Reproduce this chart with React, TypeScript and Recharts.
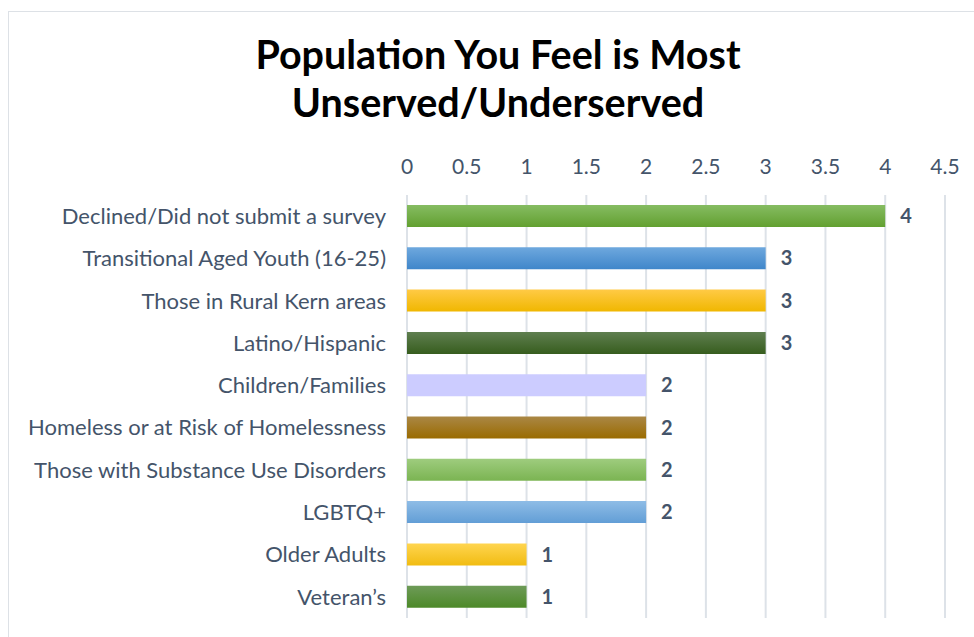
import React from "react";
import {
  BarChart,
  Bar,
  XAxis,
  YAxis,
  CartesianGrid,
  LabelList,
  Cell,
} from "recharts";

const categories = [
  "Declined/Did not submit a survey",
  "Transitional Aged Youth (16-25)",
  "Those in Rural Kern areas",
  "Latino/Hispanic",
  "Children/Families",
  "Homeless or at Risk of Homelessness",
  "Those with Substance Use Disorders",
  "LGBTQ+",
  "Older Adults",
  "Veteran\u2019s",
];

const counts = [4, 3, 3, 3, 2, 2, 2, 2, 1, 1];

const xTicks = [0, 0.5, 1, 1.5, 2, 2.5, 3, 3.5, 4, 4.5];

// top / bottom colour of each bar's gradient
const gradients = [
  ["#86BC62", "#62A030"],
  ["#6EA8DE", "#3F86CA"],
  ["#FFCA45", "#F0B700"],
  ["#5F7F50", "#375D1E"],
  ["#CCCCFF", "#CCCCFF"],
  ["#AA8745", "#9A6B00"],
  ["#9ECC7E", "#7BB452"],
  ["#8EBCE6", "#629ED6"],
  ["#FFD550", "#F1BC12"],
  ["#6E9B58", "#4D8928"],
];

const data = categories.map((name, i) => ({ name, value: counts[i] }));

const textColor = "#44546A";
const font = "Lato, 'Open Sans', sans-serif";

export default function App() {
  return (
    <div
      style={{
        position: "fixed",
        left: 0,
        top: 0,
        width: 974,
        height: 637,
        background: "#fff",
        overflow: "hidden",
        fontFamily: font,
      }}
    >
      <div
        style={{
          position: "absolute",
          left: 8,
          top: 11,
          width: 1000,
          height: 700,
          border: "1.5px solid #DDE1E6",
          boxSizing: "border-box",
        }}
      />
      <div
        style={{
          position: "absolute",
          left: 0,
          top: 30,
          width: 996,
          textAlign: "center",
          fontSize: 39.5,
          fontWeight: 700,
          lineHeight: "48px",
          color: "#000",
        }}
      >
        Population You Feel is Most
        <br />
        Unserved/Underserved
      </div>
      <div style={{ position: "absolute", left: 0, top: 0 }}>
        <BarChart
          width={974}
          height={637}
          data={data}
          layout="vertical"
          margin={{ top: 140, right: 29, bottom: 19, left: 0 }}
          barSize={22}
        >
          <defs>
            {gradients.map(([a, b], i) => (
              <linearGradient key={i} id={`g${i}`} x1="0" y1="0" x2="0" y2="1">
                <stop offset="0%" stopColor={a} />
                <stop offset="100%" stopColor={b} />
              </linearGradient>
            ))}
          </defs>
          <CartesianGrid horizontal={false} stroke="#DDE2E8" strokeWidth={2} />
          <XAxis
            type="number"
            orientation="top"
            domain={[0, 4.5]}
            ticks={xTicks}
            height={55}
            axisLine={false}
            tickLine={false}
            tickSize={0}
            tickMargin={21}
            interval={0}
            tick={{ fill: textColor, fontSize: 21, fontFamily: font }}
          />
          <YAxis
            type="category"
            dataKey="name"
            width={407}
            axisLine={false}
            tickLine={false}
            tickSize={0}
            tickMargin={21}
            interval={0}
            tick={{ fill: textColor, fontSize: 22, fontFamily: font }}
          />
          <Bar dataKey="value" isAnimationActive={false}>
            {data.map((_, i) => (
              <Cell key={i} fill={`url(#g${i})`} />
            ))}
            <LabelList
              dataKey="value"
              position="right"
              offset={15}
              style={{ fill: textColor, fontWeight: 700, fontSize: 20, fontFamily: font }}
            />
          </Bar>
        </BarChart>
      </div>
    </div>
  );
}
